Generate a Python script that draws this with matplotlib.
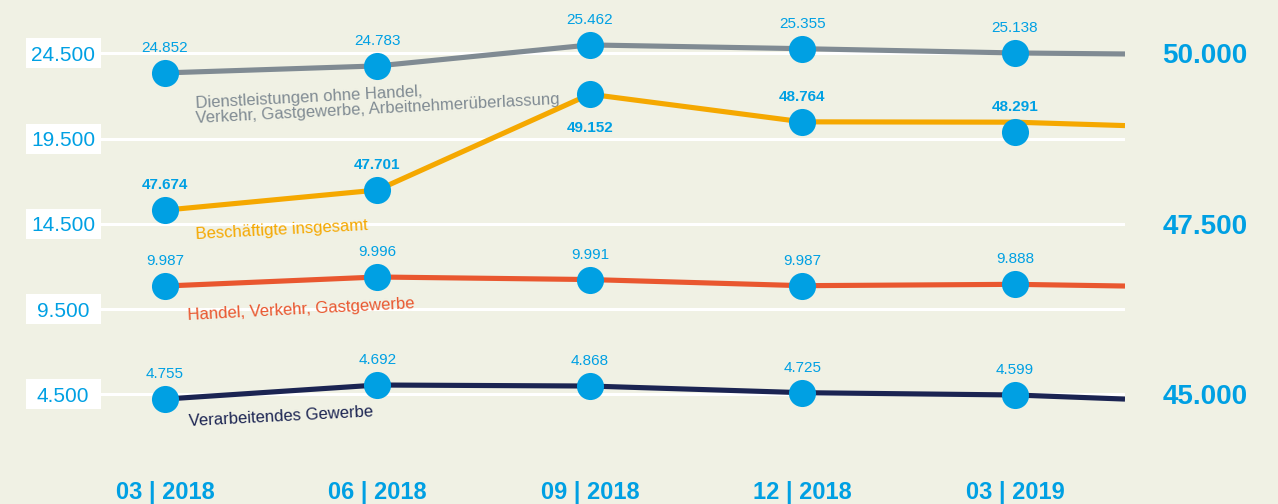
#!/usr/bin/env python3

import matplotlib
matplotlib.use("Agg")
import matplotlib.pyplot as plt
from matplotlib.patches import Rectangle
from matplotlib.transforms import blended_transform_factory

""" Beschaeftigte nach Wirtschaftszweigen, quarterly """

plt.rcParams['font.family'] = ['Liberation Sans', 'DejaVu Sans']

# dates on the x axis
quarters = ["03 | 2018", "06 | 2018", "09 | 2018", "12 | 2018", "03 | 2019"]

# positions of the dots (left axis, total on right axis)
dienst_pos = [23350, 23760, 24990, 24770, 24520]
handel_pos = [10850, 11380, 11230, 10870, 10950]
verarb_pos = [4220, 5045, 4985, 4595, 4460]
total_pos = [47700, 47995, 49400, 48995, 48845]
total_line = [47700, 47995, 49400, 48995, 48990]  # line runs above the last dot

# where the lines end at the right edge
dienst_end = 24460
handel_end = 10850
verarb_end = 4220
total_end = 48940

# printed values
dienst_lbl = ["24.852", "24.783", "25.462", "25.355", "25.138"]
total_lbl = ["47.674", "47.701", "49.152", "48.764", "48.291"]
handel_lbl = ["9.987", "9.996", "9.991", "9.987", "9.888"]
verarb_lbl = ["4.755", "4.692", "4.868", "4.725", "4.599"]

left_ticks = [4500, 9500, 14500, 19500, 24500]
left_tick_lbl = ["4.500", "9.500", "14.500", "19.500", "24.500"]
right_ticks = [45000, 47500, 50000]
right_tick_lbl = ["45.000", "47.500", "50.000"]

BG = '#f0f1e4'
BLUE = '#00a0e3'
GRAY = '#808b93'
ORANGE = '#f5a800'
RED = '#e9572f'
NAVY = '#1b2452'

W, H = 1278, 504
fig = plt.figure(figsize=(W / 100, H / 100), dpi=100, facecolor=BG)
ax = fig.add_axes([101 / W, 34 / H, 1024 / W, 455 / H])
ax.set_facecolor(BG)

x_left, x_right = -0.301, 4.518
ax.set_xlim(x_left, x_right)
ax.set_ylim(60, 26746)

ax2 = ax.twinx()
ax2.set_ylim(43890, 50561.5)

for a in (ax, ax2) :
	for s in a.spines.values() :
		s.set_visible(False)
	a.tick_params(length=0)

# left ticks: centred text in equal white boxes
ax.set_yticks(left_ticks, labels=left_tick_lbl, fontsize=15)
ax.tick_params(axis='y', pad=27.4, labelcolor=BLUE)
for lbl in ax.get_yticklabels() :
	lbl.set_horizontalalignment('center')
box_tr = blended_transform_factory(ax.transAxes, ax.transData)
box_w = 75 / 1024
box_h = 1760
for v in left_ticks :
	ax.add_patch(Rectangle((-box_w, v - box_h / 2), box_w, box_h, transform=box_tr,
		facecolor='white', edgecolor='none', clip_on=False, zorder=0))
ax.yaxis.grid(True, color='white', linewidth=2.2)
ax.set_axisbelow(True)

ax2.set_yticks(right_ticks, labels=right_tick_lbl, fontsize=20, fontweight='bold')
ax2.tick_params(axis='y', pad=27, labelcolor=BLUE)

xs = list(range(len(quarters)))
ax.set_xticks(xs, labels=quarters, fontsize=17, fontweight='bold')
ax.tick_params(axis='x', pad=8, labelcolor=BLUE)

series = [
	(ax, dienst_pos, dienst_pos, dienst_end, dienst_lbl, GRAY, 'normal'),
	(ax, handel_pos, handel_pos, handel_end, handel_lbl, RED, 'normal'),
	(ax, verarb_pos, verarb_pos, verarb_end, verarb_lbl, NAVY, 'normal'),
	(ax2, total_pos, total_line, total_end, total_lbl, ORANGE, 'bold'),
]

for a, pos, line, end, lbls, color, weight in series :
	a.plot(xs + [x_right], line + [end], color=color, linewidth=3.7,
		solid_capstyle='butt', zorder=2)
	a.plot(xs, pos, 'o', color=BLUE, markersize=19.5, markeredgewidth=0, zorder=3)
	for i, (x, y, t) in enumerate(zip(xs, pos, lbls)) :
		dy = 18
		if a is ax2 and i == 2 :
			dy = -24  # 49.152 sits below its dot
		a.annotate(t, (x, y), xytext=(0, dy), textcoords='offset points',
			ha='center', va='center', fontsize=11, color=BLUE, fontweight=weight)

# series names, slightly tilted
names = [
	(ax, dienst_pos, "Dienstleistungen ohne Handel,\nVerkehr, Gastgewerbe, Arbeitnehmerüberlassung", GRAY, (21.5, -17)),
	(ax2, total_pos, "Beschäftigte insgesamt", ORANGE, (21.5, -12)),
	(ax, handel_pos, "Handel, Verkehr, Gastgewerbe", RED, (16, -16)),
	(ax, verarb_pos, "Verarbeitendes Gewerbe", NAVY, (17, -11)),
]
for a, pos, name, color, off in names :
	a.annotate(name, (0, pos[0]), xytext=off, textcoords='offset points',
		ha='left', va='top', rotation=3, rotation_mode='anchor',
		fontsize=12, color=color, linespacing=1.0)

plt.savefig("out.png", dpi=100, facecolor=BG)
